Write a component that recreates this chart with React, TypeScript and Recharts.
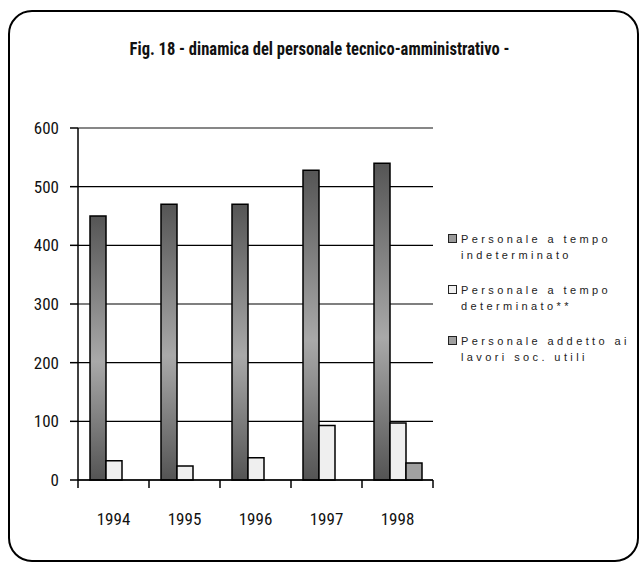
import { BarChart, Bar, XAxis, YAxis, CartesianGrid, ReferenceLine } from 'recharts';

const years = ['1994', '1995', '1996', '1997', '1998'];
const indeterminato = [450, 470, 470, 528, 540];
const determinato = [33, 24, 38, 93, 97];
const lavoriSocUtili = [null, null, null, null, 29];
const yTicks = [0, 100, 200, 300, 400, 500, 600];

const data = years.map((y, i) => ({
  year: y,
  ind: indeterminato[i],
  det: determinato[i],
  lsu: lavoriSocUtili[i],
}));

const legendItems = [
  { lines: ['Personale a tempo', 'indeterminato'], fill: '#9a9a9a' },
  { lines: ['Personale a tempo', 'determinato**'], fill: '#efefef' },
  { lines: ['Personale addetto ai', 'lavori soc. utili'], fill: '#a0a0a0' },
];

const narrow = '"Liberation Sans Narrow", "Arial Narrow", "Roboto Condensed", sans-serif';

const YearTick = (props: any) => {
  const { x, y, payload, index } = props;
  const half = payload.offset || 0;
  return (
    <g>
      <line x1={x - half} y1={y} x2={x - half} y2={y + 8} stroke="#000" strokeWidth={1.5} />
      {index === years.length - 1 && (
        <line x1={x + half} y1={y} x2={x + half} y2={y + 8} stroke="#000" strokeWidth={1.5} />
      )}
      <text x={x} y={y + 45} textAnchor="middle" fontFamily={narrow} fontSize={17} fill="#111">
        {payload.value}
      </text>
    </g>
  );
};

const LegendBox = () => (
  <div style={{ fontFamily: 'Arial, "Liberation Sans", sans-serif', fontSize: 11, color: '#222', letterSpacing: '3.4px' }}>
    {legendItems.map((it, i) => (
      <div key={i} style={{ display: 'flex', marginBottom: 19 }}>
        <div style={{ width: 7, height: 7, background: it.fill, border: '1.5px solid #222', marginTop: 3, marginRight: 4, flexShrink: 0 }} />
        <div style={{ lineHeight: '16px' }}>
          {it.lines.map((l, j) => (
            <div key={j}>{l}</div>
          ))}
        </div>
      </div>
    ))}
  </div>
);

export default function App() {
  return (
    <div style={{ position: 'absolute', left: 0, top: 0, width: 639, height: 562, background: '#fff', overflow: 'hidden' }}>
      <div
        style={{
          position: 'absolute',
          left: 8,
          top: 10,
          width: 627,
          height: 548,
          border: '2px solid #000',
          borderRadius: 24,
        }}
      />
      <div
        style={{
          position: 'absolute',
          left: 0,
          top: 37,
          width: 639,
          textAlign: 'center',
          fontFamily: narrow,
          fontWeight: 'bold',
          fontSize: 19,
          color: '#111',
          transform: 'scaleX(0.87)',
          transformOrigin: '320px 0',
          whiteSpace: 'nowrap',
        }}
      >
        Fig. 18 - dinamica del personale tecnico-amministrativo -
      </div>
      <div style={{ position: 'absolute', left: 0, top: 0 }}>
        <BarChart
          width={639}
          height={562}
          data={data}
          margin={{ top: 128, right: 206, bottom: 22, left: 20 }}
          barSize={16}
          barGap={0}
        >
          <defs>
            <linearGradient id="gradInd" x1="0" y1="0" x2="0" y2="1">
              <stop offset="0%" stopColor="#555555" />
              <stop offset="55%" stopColor="#a9a9a9" />
              <stop offset="100%" stopColor="#545454" />
            </linearGradient>
          </defs>
          <CartesianGrid vertical={false} stroke="#000" strokeWidth={1.2} />
          <ReferenceLine y={600} stroke="#8a8a8a" strokeWidth={1.5} />
          <XAxis
            dataKey="year"
            axisLine={{ stroke: '#000', strokeWidth: 1.5 }}
            tickLine={false}
            tickSize={0}
            tickMargin={0}
            tick={<YearTick />}
            interval={0}
            height={60}
          />
          <YAxis
            domain={[0, 600]}
            ticks={yTicks}
            width={58}
            axisLine={{ stroke: '#000', strokeWidth: 1.5 }}
            tickLine={{ stroke: '#000', strokeWidth: 1.5 }}
            tickSize={8}
            tick={{ fontFamily: narrow, fontSize: 17, fill: '#111' }}
            tickMargin={11}
          />
          <YAxis
            yAxisId="border"
            orientation="right"
            domain={[0, 600]}
            width={0}
            tick={false}
            tickLine={false}
            axisLine={{ stroke: '#8a8a8a', strokeWidth: 1.5 }}
          />
          <Bar dataKey="ind" fill="url(#gradInd)" stroke="#000" strokeWidth={1.5} isAnimationActive={false} />
          <Bar dataKey="det" fill="#efefef" stroke="#000" strokeWidth={1.5} isAnimationActive={false} />
          <Bar dataKey="lsu" fill="#a0a0a0" stroke="#000" strokeWidth={1.5} isAnimationActive={false} />
        </BarChart>
      </div>
      <div style={{ position: 'absolute', left: 448, top: 231, width: 190 }}>
        <LegendBox />
      </div>
    </div>
  );
}
